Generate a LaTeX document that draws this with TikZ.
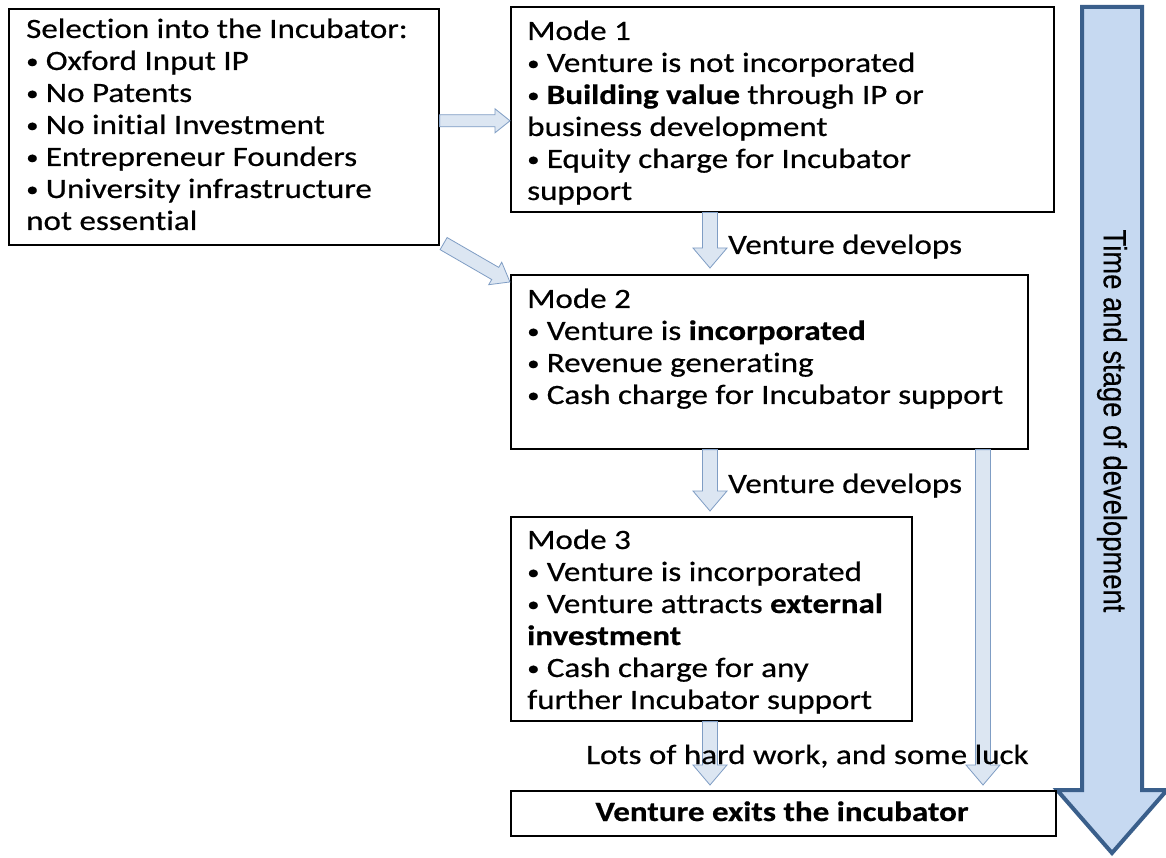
\documentclass[tikz,border=0pt]{standalone}
\usepackage{fontspec}
\usepackage{graphicx}
\setmainfont{Carlito}[FakeStretch=1.18, FakeBold=0.5, Ligatures=NoCommon]
\newfontfamily\arialf{Liberation Sans}[FakeBold=0.4]
\usetikzlibrary{calc}
\definecolor{arrowfill}{HTML}{DCE6F2}
\definecolor{arrowline}{HTML}{7F9DC4}
\definecolor{bigfill}{HTML}{C6D9F1}
\definecolor{bigline}{HTML}{3A5F8B}
\tikzset{
  box/.style={draw=black, line width=1.6pt, rectangle, anchor=north west, inner sep=0pt},
  boxtext/.style={anchor=base west, inner sep=0pt, font=\fontsize{28}{32}\selectfont},
  lbl/.style={anchor=base west, inner sep=0pt, font=\fontsize{28}{32}\selectfont},
  blockarrow/.style={draw=arrowline, fill=arrowfill, line width=0.8pt, line join=miter},
  bigarrow/.style={draw=bigline, fill=bigfill, line width=4pt, line join=miter}
}
% #1 style, #2 start, #3 end, #4 shaft half width, #5 head half width, #6 head length
\newcommand\blockarr[6]{%
  \path[#1] let \p1=(#2), \p2=(#3), \n1={veclen(\x2-\x1,\y2-\y1)}, \n2={atan2(\y2-\y1,\x2-\x1)} in
    [shift={(\p1)}, rotate=\n2]
    (0pt,-#4) -- (\n1-#6,-#4) -- (\n1-#6,-#5) -- (\n1,0pt) -- (\n1-#6,#5) -- (\n1-#6,#4) -- (0pt,#4) -- cycle;}
\newcommand\ptext[1]{\parbox[t]{600pt}{\raggedright #1}}
\newcommand\bul{\makebox[0.7em][l]{\raisebox{0.06em}{\scalebox{0.75}{\textbullet}}}}
\begin{document}
\begin{tikzpicture}[x=1pt,y=1pt]
\useasboundingbox (0,0) rectangle (1166,-858);
\fill[white] (0,0) rectangle (1166,-858);

% big time arrow
\coordinate (ttop) at (1112,-7);
\coordinate (tbot) at (1112,-853);
\blockarr{bigarrow}{ttop}{tbot}{30pt}{55pt}{63pt}
\node[rotate=-90, inner sep=0pt, font=\arialf\fontsize{27.4}{30}\selectfont] (tlabel) at (1112,-421)
  {\scalebox{1}[1.18]{Time and stage of development}};

% boxes
\node[box, minimum width=430pt, minimum height=236pt] (sel) at (8,-8) {};
\node[box, minimum width=543pt, minimum height=205pt] (m1) at (510,-6) {};
\node[box, minimum width=517pt, minimum height=174pt] (m2) at (510,-274) {};
\node[box, minimum width=401pt, minimum height=204pt] (m3) at (510,-516) {};
\node[box, minimum width=545pt, minimum height=45pt] (exit) at (510,-790) {};

% box texts
\node[boxtext] (seltext) at (26,-38) {\ptext{Selection into the Incubator:\\
\bul Oxford Input IP\\
\bul No Patents\\
\bul No initial Investment\\
\bul Entrepreneur Founders\\
\bul University infrastructure\\
not essential}};
\node[boxtext] (m1text) at (527,-40) {\ptext{Mode 1\\
\bul Venture is not incorporated\\
\bul \textbf{Building value} through IP or\\
business development\\
\bul Equity charge for Incubator\\
support}};
\node[boxtext] (m2text) at (527,-308) {\ptext{Mode 2\\
\bul Venture is \textbf{incorporated}\\
\bul Revenue generating\\
\bul Cash charge for Incubator support}};
\node[boxtext] (m3text) at (527,-549) {\ptext{Mode 3\\
\bul Venture is incorporated\\
\bul Venture attracts \textbf{external}\\
\textbf{investment}\\
\bul Cash charge for any\\
further Incubator support}};
\node[anchor=base, inner sep=0pt, font=\fontsize{28}{32}\selectfont\bfseries] (exittext) at (782,-821) {Venture exits the incubator};

% connector coordinates
\coordinate (a1s) at ($(sel.east)+(0,6)$);
\coordinate (a1e) at (m1.west |- a1s);
\coordinate (a2s) at ($(sel.south east)+(4,2)$);
\coordinate (a2e) at ($(m2.north west)+(0,-8)$);
\coordinate (a3s) at ($(m1.south west)+(200,0)$);
\coordinate (a3e) at ($(m2.north west)+(200,6)$);
\coordinate (a4s) at ($(m2.south west)+(200,0)$);
\coordinate (a4e) at ($(m3.north west)+(200,5)$);
\coordinate (a5s) at ($(m3.south west)+(200,0)$);
\coordinate (a5e) at ($(exit.north west)+(200,5)$);
\coordinate (a6s) at ($(m2.south west)+(473,0)$);
\coordinate (a6e) at ($(exit.north west)+(473,5)$);

\blockarr{blockarrow}{a1s}{a1e}{6pt}{12pt}{15pt}
\blockarr{blockarrow}{a2s}{a2e}{7pt}{13pt}{17pt}
\blockarr{blockarrow}{a3s}{a3e}{7.5pt}{17pt}{20pt}
\blockarr{blockarrow}{a4s}{a4e}{7.5pt}{17pt}{20pt}
\blockarr{blockarrow}{a5s}{a5e}{7.5pt}{17pt}{20pt}
\blockarr{blockarrow}{a6s}{a6e}{7.5pt}{17pt}{20pt}

% labels
\node[lbl] (dev1) at (728,-254) {Venture develops};
\node[lbl] (dev2) at (728,-493) {Venture develops};
\node[lbl] (luck) at (586,-764) {Lots of hard work, and some luck};
\end{tikzpicture}
\end{document}
